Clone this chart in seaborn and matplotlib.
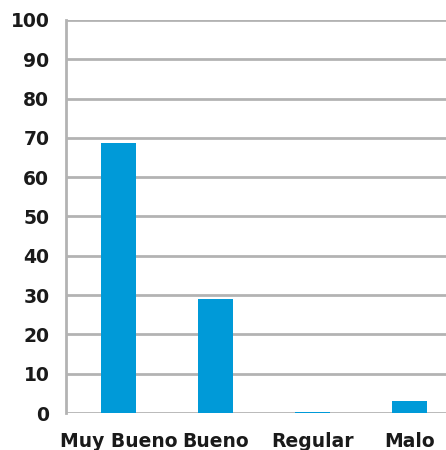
import seaborn as sns
import matplotlib.pyplot as plt
import pandas as pd

categorias = ["Muy Bueno", "Bueno", "Regular", "Malo"]
porcentajes = [68.7, 29.0, 0.2, 3.1]
ticks_y = [0, 10, 20, 30, 40, 50, 60, 70, 80, 90, 100]

df = pd.DataFrame({"categoria": categorias, "valor": porcentajes})

sns.set_style("white")
plt.rcParams['font.family'] = ['DejaVu Sans']

fig = plt.figure(figsize=(4.46, 4.5), dpi=100)
ax = fig.add_axes([0.148, 0.0822, 0.852, 0.8734])

sns.barplot(data=df, x="categoria", y="valor", color="#009ad8", saturation=1,
            width=0.36, ax=ax, zorder=3, linewidth=0, edgecolor="none")

ax.set_xlim(-0.54, 3.376)
ax.set_ylim(0, 100)
ax.set_yticks(ticks_y)
ax.yaxis.grid(True, color="#b3b3b3", linewidth=2, zorder=0)
ax.set_axisbelow(True)
for s in ["top", "right", "bottom"]:
    ax.spines[s].set_visible(False)
ax.spines["left"].set_color("#b3b3b3")
ax.spines["left"].set_linewidth(2)

ax.set_xlabel("")
ax.set_ylabel("")
ax.tick_params(axis="both", length=0, labelsize=13.5, colors="#1a1a1a")
ax.tick_params(axis="y", pad=12)
ax.tick_params(axis="x", pad=14)
for lab in ax.get_xticklabels() + ax.get_yticklabels():
    lab.set_fontweight("bold")

fig.savefig("out.png", dpi=100)
